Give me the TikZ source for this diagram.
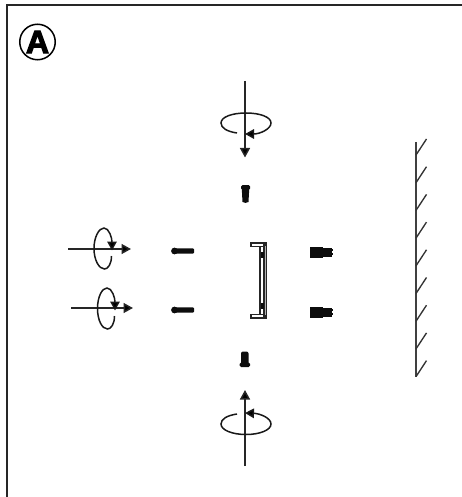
\documentclass[tikz,border=0pt]{standalone}
\usepackage{fontspec}
\setmainfont{Liberation Sans}
\newfontfamily\badgefont{Liberation Sans}[BoldFeatures={FakeBold=3.5}]
\usetikzlibrary{arrows.meta}
\tikzset{
 x=1pt,y=-1pt,
 axis/.style={line width=1.5pt,black!85,-{Triangle[length=9.5pt,width=10pt,fill=black]}},
 turn/.style={line width=1.5pt,black!90,-{Triangle[length=9pt,width=9.5pt,fill=black]}},
 part/.style={fill=black!95,draw=none},
 wall/.style={line width=1.7pt,black!75},
 hatchl/.style={line width=1.35pt,black!80},
 bar/.style={draw=black!85,line width=1.2pt,fill=white}
}
\begin{document}
\begin{tikzpicture}
\useasboundingbox (0,0) rectangle (462,497);
% frame
\coordinate (fa) at (7,497); \coordinate (fb) at (7,5); \coordinate (fc) at (462,5);
\draw[line width=2pt,black!85] (fa)--(fb)--(fc);
% badge
\node[circle,draw,line width=1.5pt,minimum size=35.5pt,inner sep=0pt,font=\badgefont\bfseries\fontsize{32}{32}\selectfont] (badge) at (37.5,42) {A};
% top
\coordinate (t1) at (245,81); \coordinate (t2) at (245,157.5);
\draw[axis] (t1)--(t2);
\draw[turn] (237,133) .. controls (227,131.5) and (221,128) .. (221,123)
  .. controls (221,117) and (232,113) .. (246,113)
  .. controls (260,113) and (271,117) .. (271,123)
  .. controls (271,129) and (260,134) .. (245,134);
\fill[part] (241.8,189) -- (242.5,202) to[bend right=30] (248.5,202) -- (249.2,189) -- cycle;
\fill[part,rounded corners=1.5pt] (241,185) rectangle (250,190);
% bottom
\coordinate (b1) at (245,466); \coordinate (b2) at (245,390);
\draw[axis] (b1)--(b2);
\draw[turn] (237,414) .. controls (227,415.5) and (221,419) .. (221,424)
  .. controls (221,430) and (232,434.5) .. (246,434.5)
  .. controls (260,434.5) and (271,430) .. (271,424)
  .. controls (271,418) and (260,413.5) .. (245,413);
\fill[part,rounded corners=2pt] (241,351.5) rectangle (248.5,366);
\fill[part,rounded corners=1.5pt] (239.5,362.5) rectangle (250,367);
% left upper
\coordinate (l1) at (68,249); \coordinate (l2) at (131,249);
\draw[axis] (l1)--(l2);
\draw[turn] (111.5,256) .. controls (111.5,264) and (108,269) .. (104.5,269)
  .. controls (99,269) and (94,260) .. (94,248.5)
  .. controls (94,237) and (99,228) .. (104,228)
  .. controls (109,228) and (112,238) .. (112,250.5);
% left lower
\coordinate (m1) at (71,308); \coordinate (m2) at (133,308);
\draw[axis] (m1)--(m2);
\draw[turn] (114.5,316) .. controls (114.5,324) and (111,329) .. (107.5,329)
  .. controls (102,329) and (97.5,320) .. (97.5,308.5)
  .. controls (97.5,297) and (102,288) .. (107,288)
  .. controls (112,288) and (115,298) .. (115,310.5);
% horizontal screws
\foreach \yy in {251,310}{
  \fill[part,rounded corners=1.2pt] (173,\yy-2.7) rectangle (194,\yy+2.7);
  \fill[part] (174.5,\yy) circle (3.4pt);
}
% bracket
\draw[bar] (251,243) rectangle (266.5,246.5);
\draw[bar] (251,314.5) rectangle (266.5,318);
\fill[black!85] (263,243) rectangle (267,318);
\fill[black!85] (259,246) rectangle (261,315);
\fill[white!70!black] (264.5,246) rectangle (265.2,315);
\fill[part] (261,252) rectangle (264,258);
\fill[part] (261,303) rectangle (264,309);
% anchors
\foreach \yy in {247,307}{
  \fill[part] (310,\yy) rectangle (323,\yy+11);
  \fill[part] (323,\yy+1) rectangle (332,\yy+10);
  \fill[part] (331,\yy+2) rectangle (333,\yy+4);
  \fill[part] (331,\yy+6) rectangle (333,\yy+8);
}
% wall
\coordinate (w1) at (415.7,142); \coordinate (w2) at (415.7,377);
\draw[wall] (w1)--(w2);
\foreach \i in {0,...,8}{
  \draw[hatchl] (416,155+27.7*\i) -- (426.5,139+27.7*\i);
}
\end{tikzpicture}
\end{document}
